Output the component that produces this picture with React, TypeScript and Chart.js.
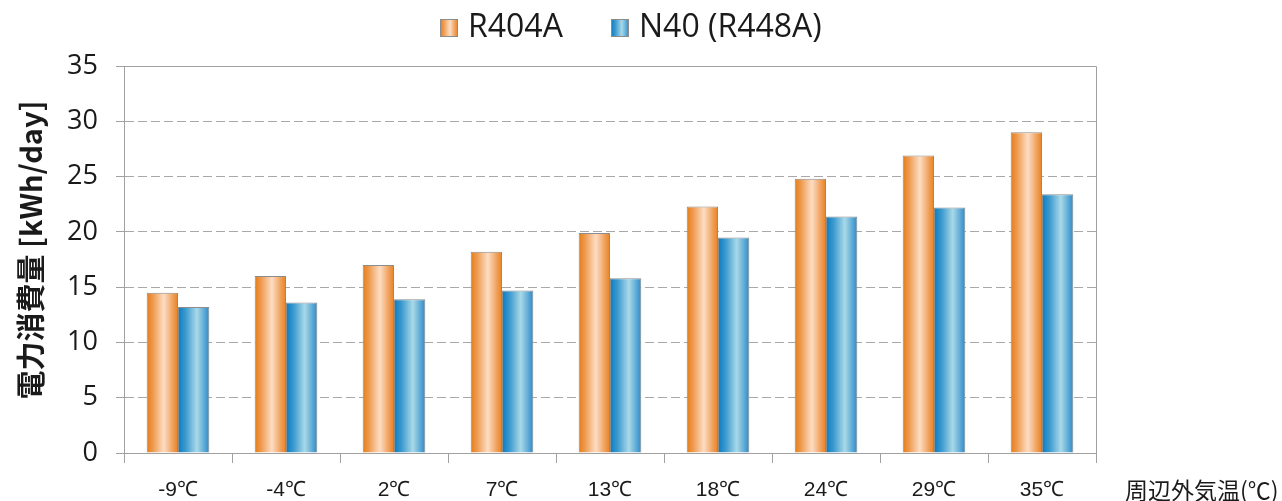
import React, { useEffect, useRef } from "react";
import { Chart, registerables } from "chart.js";

Chart.register(...registerables);

const categories = ["-9℃", "-4℃", "2℃", "7℃", "13℃", "18℃", "24℃", "29℃", "35℃"];
const r404a = [14.5, 16.0, 17.0, 18.2, 19.9, 22.3, 24.8, 26.9, 29.0];
const n40 = [13.2, 13.6, 13.9, 14.7, 15.8, 19.5, 21.4, 22.2, 23.4];
const seriesNames = ["R404A", "N40 (R448A)"];
const yTitle = "電力消費量 [kWh/day]";
const xTitle = "周辺外気温(℃)";

const CAT_PCT = 0.58;

const orangeStops: [number, string][] = [
  [0, "#E57C17"],
  [0.2, "#EE9A4E"],
  [0.55, "#FDDDC4"],
  [0.85, "#EF9C55"],
  [1, "#E8831F"],
];
const blueStops: [number, string][] = [
  [0, "#0A7BC0"],
  [0.25, "#3E9BD0"],
  [0.6, "#A9D9E8"],
  [0.85, "#5AA8D6"],
  [1, "#2C88C6"],
];

function makeGrad(ctx: CanvasRenderingContext2D, x0: number, x1: number, stops: [number, string][]) {
  const g = ctx.createLinearGradient(x0, 0, x1, 0);
  stops.forEach(([o, c]) => g.addColorStop(o, c));
  return g;
}

function barBg(stops: [number, string][], side: number) {
  return (context: any) => {
    const chart = context.chart;
    const xs = chart.scales?.x;
    if (!xs || context.dataIndex === undefined) return stops[2][1];
    const cx = xs.getPixelForValue(context.dataIndex);
    const catW = xs.width / categories.length;
    const bw = (catW * CAT_PCT) / 2;
    const x0 = side === 0 ? cx - bw : cx;
    if (!isFinite(x0) || !isFinite(bw) || bw <= 0) return stops[2][1];
    return makeGrad(chart.ctx, x0, x0 + bw, stops);
  };
}

const decorPlugin = {
  id: "decor",
  beforeDatasetsDraw(chart: any) {
    const { ctx, chartArea } = chart;
    ctx.save();
    ctx.strokeStyle = "#a0a0a0";
    ctx.lineWidth = 1;
    ctx.setLineDash([]);
    ctx.beginPath();
    ctx.moveTo(chartArea.left, chartArea.top + 0.5);
    ctx.lineTo(chartArea.right + 0.5, chartArea.top + 0.5);
    ctx.lineTo(chartArea.right + 0.5, chartArea.bottom);
    ctx.stroke();
    ctx.restore();
  },
  afterDraw(chart: any) {
    const { ctx } = chart;
    ctx.save();
    ctx.translate(31, 250);
    ctx.rotate(-Math.PI / 2);
    ctx.fillStyle = "#1a1a1a";
    ctx.font = "bold 29px 'Noto Sans CJK JP', 'Open Sans', sans-serif";
    ctx.textAlign = "center";
    ctx.textBaseline = "middle";
    ctx.fillText(yTitle, 0, 0);
    ctx.restore();

    ctx.save();
    ctx.fillStyle = "#1a1a1a";
    ctx.font = "23px 'Noto Sans CJK JP', sans-serif";
    ctx.textAlign = "left";
    ctx.textBaseline = "middle";
    ctx.fillText(xTitle, 1125, 490);
    ctx.restore();

    ctx.save();
    ctx.font = "32px 'Open Sans', sans-serif";
    ctx.textBaseline = "middle";
    const items = [
      { x: 440, stops: orangeStops, label: seriesNames[0] },
      { x: 611, stops: blueStops, label: seriesNames[1] },
    ];
    items.forEach((it) => {
      const bx = it.x, by = 19, bs = 18;
      ctx.fillStyle = makeGrad(ctx, bx, bx + bs, it.stops);
      ctx.fillRect(bx, by, bs, bs);
      ctx.strokeStyle = "#8c8c8c";
      ctx.lineWidth = 1;
      ctx.strokeRect(bx + 0.5, by + 0.5, bs - 1, bs - 1);
      ctx.fillStyle = "#1a1a1a";
      ctx.fillText(it.label, bx + 28, 28);
    });
    ctx.restore();
  },
};

export default function App() {
  const ref = useRef<HTMLCanvasElement>(null);
  useEffect(() => {
    if (!ref.current) return;
    const chart = new Chart(ref.current, {
      type: "bar",
      data: {
        labels: categories,
        datasets: [
          {
            label: seriesNames[0],
            data: r404a,
            backgroundColor: barBg(orangeStops, 0),
            borderColor: "#8c8c8c",
            borderWidth: 1,
            categoryPercentage: CAT_PCT,
            barPercentage: 1,
          },
          {
            label: seriesNames[1],
            data: n40,
            backgroundColor: barBg(blueStops, 1),
            borderColor: "#8c8c8c",
            borderWidth: 1,
            categoryPercentage: CAT_PCT,
            barPercentage: 1,
          },
        ],
      },
      options: {
        responsive: false,
        animation: false,
        layout: { padding: { top: 66, right: 186, left: 0, bottom: 0 } },
        plugins: { legend: { display: false }, tooltip: { enabled: false } },
        scales: {
          x: {
            afterFit: (s: any) => {
              s.height = 48;
            },
            grid: {
              display: true,
              drawOnChartArea: false,
              drawTicks: true,
              tickLength: 10,
              offset: true,
              color: "#a0a0a0",
            },
            border: { display: true, color: "#a0a0a0" },
            ticks: {
              color: "#1a1a1a",
              font: { family: "'Liberation Sans', Arial, sans-serif", size: 21 },
              padding: 15,
            },
          },
          y: {
            min: 0,
            max: 35,
            afterFit: (s: any) => {
              s.width = 124;
            },
            ticks: {
              stepSize: 5,
              color: "#1a1a1a",
              font: { family: "'Open Sans', sans-serif", size: 27 },
              padding: 18,
            },
            grid: {
              color: "#a8a8a8",
              tickLength: 8,
              tickColor: "#a0a0a0",
              tickBorderDash: [],
            } as any,
            border: { display: true, color: "#a0a0a0", dash: [9, 4] } as any,
          },
        },
      },
      plugins: [decorPlugin],
    });
    return () => chart.destroy();
  }, []);
  return (
    <div style={{ position: "absolute", left: 0, top: 0, width: 1282, height: 501, background: "#fff" }}>
      <canvas ref={ref} width={1282} height={501} style={{ width: 1282, height: 501, display: "block" }} />
    </div>
  );
}
